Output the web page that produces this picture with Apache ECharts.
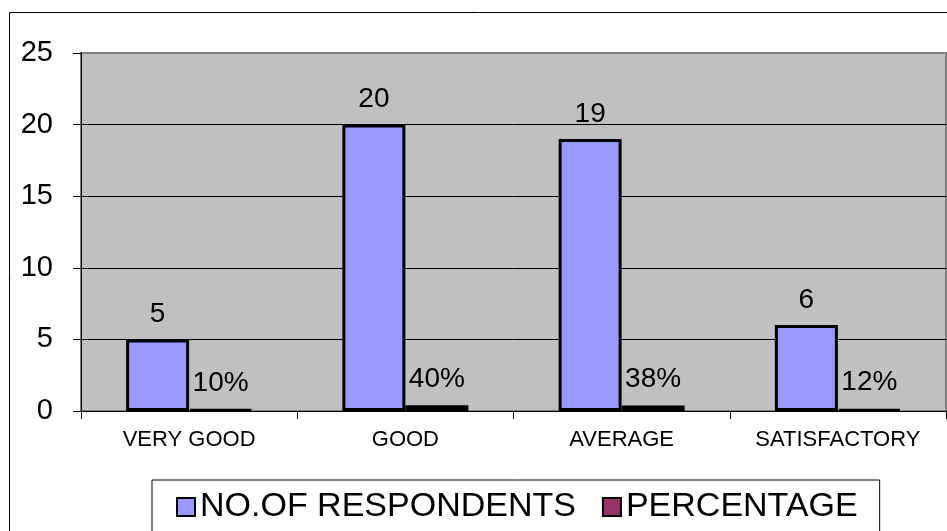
<!DOCTYPE html>
<html>
<head>
<meta charset="utf-8">
<title>Respondents</title>
<script src="https://cdn.jsdelivr.net/npm/echarts@6/dist/echarts.min.js"></script>
<style>
  html, body { margin: 0; padding: 0; background: #fff; }
  #chart { width: 947px; height: 531px; }
</style>
</head>
<body>
<div id="chart"></div>
<script>
// data
var categories = ['VERY GOOD', 'GOOD', 'AVERAGE', 'SATISFACTORY'];
var respondents = [5, 20, 19, 6];
var percentage = [0.10, 0.40, 0.38, 0.12];
var yTicks = [0, 5, 10, 15, 20, 25];

var font = "'Liberation Sans', Arial, sans-serif";
var myChart = echarts.init(document.getElementById('chart'));

var option = {
  animation: false,
  backgroundColor: '#fff',
  graphic: [{
    type: 'rect',
    shape: { x: 9.5, y: 12.5, width: 1000, height: 600 },
    style: { fill: 'none', stroke: '#000', lineWidth: 1 },
    z: -1
  }],
  grid: {
    left: 81, right: 1, top: 53, bottom: 120,
    show: true,
    backgroundColor: '#C0C0C0',
    borderColor: '#808080',
    borderWidth: 2
  },
  legend: {
    left: 152,
    top: 480,
    padding: [10, 22, 8, 24],
    itemGap: 26,
    itemWidth: 18,
    itemHeight: 18,
    itemStyle: { borderColor: '#000', borderWidth: 2 },
    borderColor: '#000',
    borderWidth: 1,
    icon: 'rect',
    textStyle: { fontFamily: font, fontSize: 34, color: '#000' }
  },
  xAxis: {
    type: 'category',
    data: categories,
    axisLine: { lineStyle: { color: '#000', width: 1 } },
    axisTick: { show: true, length: 8, lineStyle: { color: '#000' } },
    axisLabel: { fontFamily: font, fontSize: 22, color: '#000', margin: 18 }
  },
  yAxis: {
    type: 'value',
    min: 0,
    max: 25,
    interval: 5,
    axisLine: { show: true, lineStyle: { color: '#000', width: 1 } },
    axisTick: { show: true, length: 8, lineStyle: { color: '#000' } },
    axisLabel: {
      fontFamily: font, fontSize: 29, color: '#000', margin: 28,
      formatter: function (v) { return yTicks.indexOf(v) >= 0 ? String(v) : ''; }
    },
    splitLine: {
      show: true,
      lineStyle: { color: ['#000', '#000', '#000', '#000', '#000', '#808080'], width: 1 }
    }
  },
  series: [{
    name: 'NO.OF RESPONDENTS',
    type: 'bar',
    data: respondents,
    barWidth: 63,
    barGap: '0%',
    itemStyle: { color: '#9999FF', borderColor: '#000', borderWidth: 3 },
    label: {
      show: true, position: 'top', distance: 11,
      fontFamily: font, fontSize: 28, color: '#000'
    }
  }, {
    name: 'PERCENTAGE',
    type: 'bar',
    data: percentage,
    barWidth: 63,
    itemStyle: { color: '#993366', borderColor: '#000', borderWidth: 3 },
    label: {
      show: true, position: 'top', distance: 12,
      fontFamily: font, fontSize: 28, color: '#000',
      formatter: function (p) { return Math.round(p.value * 100) + '%'; }
    }
  }]
};

myChart.setOption(option);
</script>
</body>
</html>
